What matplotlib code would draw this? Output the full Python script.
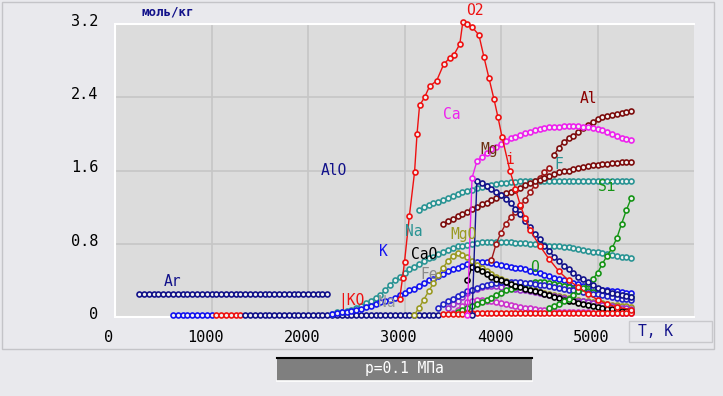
import numpy as np
import matplotlib
matplotlib.use("Agg")
import matplotlib.pyplot as plt
from matplotlib.patches import Rectangle
from matplotlib.transforms import ScaledTranslation

W, H = 723, 396
STEP = 50  # K between calculated points

# ---- data: start temperature + mole numbers (mol/kg) every STEP K ----
ar_t0 = 250
ar_v = [0.25, 0.25, 0.25, 0.25, 0.25, 0.25, 0.25, 0.25, 0.25, 0.25,
        0.25, 0.25, 0.25, 0.25, 0.25, 0.25, 0.25, 0.25, 0.25, 0.25,
        0.25, 0.25, 0.25, 0.25, 0.25, 0.25, 0.25, 0.25, 0.25, 0.25,
        0.25, 0.25, 0.25, 0.25, 0.25, 0.25, 0.25, 0.25, 0.25, 0.25]

zb_t0 = 600
zb_v = [0.02, 0.02, 0.02, 0.02, 0.02, 0.02, 0.02, 0.02, 0.02]
zr_t0 = 1050
zr_v = [0.02, 0.02, 0.02, 0.02, 0.02, 0.02]
zn_t0 = 1350
zn_v = [0.02, 0.02, 0.02, 0.02, 0.02, 0.02, 0.02, 0.02, 0.02, 0.02,
        0.02, 0.02, 0.02, 0.02, 0.02, 0.02, 0.02, 0.02, 0.02, 0.02,
        0.02, 0.02, 0.02, 0.02, 0.02, 0.02, 0.02, 0.02, 0.02, 0.02,
        0.02, 0.02, 0.02, 0.02, 0.02, 0.02, 0.02, 0.02, 0.02, 0.02, 0.02]
lr_t0 = 3400
lr_v = [0.03, 0.03, 0.03, 0.03, 0.03, 0.04, 0.04, 0.04, 0.04, 0.04,
        0.04, 0.04, 0.04, 0.04, 0.04, 0.04, 0.04, 0.04, 0.04, 0.04,
        0.04, 0.04, 0.04, 0.04, 0.04, 0.04, 0.04, 0.04, 0.04, 0.04,
        0.04, 0.04, 0.04, 0.04, 0.04, 0.04, 0.04, 0.04, 0.04, 0.04]

k_t0 = 2250
k_v = [0.03, 0.04, 0.05, 0.06, 0.07, 0.08, 0.09, 0.11, 0.12, 0.14,
       0.16, 0.17, 0.19, 0.21, 0.24, 0.26, 0.29, 0.31, 0.34, 0.37,
       0.40, 0.42, 0.45, 0.47, 0.50, 0.52, 0.54, 0.56, 0.58, 0.59,
       0.60, 0.60, 0.60, 0.59, 0.58, 0.57, 0.56, 0.55, 0.54, 0.53,
       0.52, 0.50, 0.49, 0.48, 0.46, 0.45, 0.43, 0.42, 0.40, 0.38,
       0.37, 0.36, 0.34, 0.33, 0.32, 0.31, 0.30, 0.29, 0.28, 0.28,
       0.27, 0.26, 0.26]

na_t0 = 2250
na_v = [0.03, 0.05, 0.06, 0.07, 0.08, 0.10, 0.12, 0.15, 0.18, 0.21,
        0.24, 0.29, 0.35, 0.40, 0.44, 0.48, 0.52, 0.55, 0.58, 0.61,
        0.64, 0.66, 0.69, 0.71, 0.73, 0.75, 0.77, 0.78, 0.79, 0.80,
        0.81, 0.82, 0.82, 0.82, 0.82, 0.82, 0.82, 0.82, 0.81, 0.81,
        0.81, 0.80, 0.80, 0.79, 0.79, 0.78, 0.78, 0.77, 0.76, 0.76,
        0.75, 0.74, 0.73, 0.72, 0.71, 0.71, 0.70, 0.69, 0.68, 0.67,
        0.66, 0.65, 0.64]

f_t0 = 3150
f_v = [1.17, 1.20, 1.22, 1.24, 1.26, 1.28, 1.30, 1.32, 1.34, 1.36,
       1.38, 1.39, 1.41, 1.42, 1.43, 1.44, 1.45, 1.46, 1.46, 1.47,
       1.47, 1.48, 1.48, 1.48, 1.49, 1.49, 1.49, 1.49, 1.49, 1.49,
       1.49, 1.49, 1.49, 1.49, 1.49, 1.49, 1.49, 1.49, 1.49, 1.49,
       1.49, 1.49, 1.49, 1.49, 1.49]

alo_t0 = 3700
alo_v = [0.02, 1.48, 1.46, 1.43, 1.40, 1.36, 1.33, 1.29, 1.24, 1.18,
         1.12, 1.05, 0.98, 0.91, 0.85, 0.78, 0.72, 0.66, 0.61, 0.56,
         0.52, 0.48, 0.44, 0.41, 0.38, 0.35, 0.32, 0.30, 0.28, 0.26,
         0.25, 0.24, 0.23, 0.22]

ca_t0 = 3650
ca_v = [0.02, 1.52, 1.70, 1.75, 1.79, 1.83, 1.86, 1.89, 1.92, 1.95,
        1.97, 1.99, 2.01, 2.02, 2.04, 2.05, 2.06, 2.07, 2.08, 2.08,
        2.09, 2.09, 2.09, 2.09, 2.08, 2.07, 2.06, 2.05, 2.04, 2.02,
        2.00, 1.98, 1.96, 1.94, 1.93]

mg_t0 = 3400
mg_v = [1.02, 1.05, 1.07, 1.10, 1.12, 1.15, 1.18, 1.20, 1.23, 1.25,
        1.28, 1.30, 1.33, 1.35, 1.37, 1.39, 1.41, 1.44, 1.46, 1.48,
        1.50, 1.52, 1.54, 1.56, 1.58, 1.59, 1.60, 1.62, 1.63, 1.64,
        1.65, 1.66, 1.66, 1.67, 1.67, 1.68, 1.68, 1.69, 1.69, 1.69]

al_t0 = 4550
al_v = [1.77, 1.85, 1.91, 1.95, 1.98, 2.02, 2.06, 2.10, 2.13, 2.16,
        2.18, 2.20, 2.21, 2.22, 2.23, 2.24, 2.25]

fe_t0 = 3900
fe_v = [0.62, 0.80, 0.92, 1.02, 1.09, 1.15, 1.21, 1.28, 1.36, 1.44,
        1.52, 1.58, 1.63]

si_t0 = 4500
si_v = [0.10, 0.12, 0.14, 0.17, 0.20, 0.24, 0.28, 0.32, 0.36, 0.41,
        0.48, 0.58, 0.67, 0.75, 0.86, 1.02, 1.17, 1.30]

o_t0 = 3550
o_v = [0.06, 0.08, 0.10, 0.12, 0.14, 0.16, 0.19, 0.21, 0.24, 0.26,
       0.29, 0.31, 0.33, 0.35, 0.36, 0.37, 0.38, 0.38, 0.38, 0.37,
       0.36, 0.35, 0.34, 0.33, 0.31, 0.30, 0.29, 0.28, 0.27, 0.26,
       0.25, 0.25, 0.24, 0.24, 0.23, 0.23, 0.22]

cao_t0 = 3650
cao_v = [0.40, 0.55, 0.52, 0.50, 0.47, 0.44, 0.42, 0.40, 0.38, 0.36,
         0.34, 0.33, 0.31, 0.30, 0.28, 0.27, 0.25, 0.24, 0.22, 0.21,
         0.19, 0.18, 0.17, 0.15, 0.14, 0.13, 0.12, 0.11, 0.10, 0.09,
         0.09, 0.08, 0.07, 0.07, 0.06]

mgo_t0 = 3100
mgo_v = [0.02, 0.10, 0.19, 0.28, 0.37, 0.46, 0.54, 0.61, 0.67, 0.70,
         0.68, 0.65, 0.61, 0.57, 0.54, 0.50, 0.47, 0.44, 0.41, 0.39,
         0.37, 0.35, 0.33, 0.31, 0.30, 0.29, 0.27, 0.26, 0.25, 0.24,
         0.23, 0.22, 0.21, 0.20, 0.19, 0.18, 0.17, 0.16, 0.16, 0.15,
         0.14, 0.13, 0.13, 0.12, 0.12, 0.11]

b2_t0 = 3350
b2_v = [0.10, 0.14, 0.17, 0.20, 0.23, 0.25, 0.28, 0.30, 0.32, 0.34,
        0.35, 0.36, 0.37, 0.38, 0.38, 0.38, 0.38, 0.38, 0.37, 0.37,
        0.36, 0.35, 0.35, 0.34, 0.33, 0.32, 0.31, 0.30, 0.29, 0.28,
        0.27, 0.26, 0.25, 0.25, 0.24, 0.23, 0.22, 0.21, 0.20, 0.20,
        0.19]

p1_t0 = 3450
p1_v = [0.10, 0.14, 0.18, 0.22, 0.26, 0.29, 0.31, 0.33, 0.34, 0.34,
        0.34, 0.33, 0.33, 0.32, 0.31, 0.30, 0.29, 0.28, 0.27, 0.26,
        0.25, 0.24, 0.23, 0.22, 0.21, 0.20, 0.19, 0.18, 0.17, 0.16,
        0.15, 0.14, 0.13, 0.12, 0.12, 0.11, 0.10, 0.10, 0.09]

p2_t0 = 3500
p2_v = [0.04, 0.08, 0.12, 0.16, 0.18, 0.19, 0.19, 0.18, 0.17, 0.16,
        0.15, 0.14, 0.13, 0.12, 0.11, 0.10, 0.10, 0.09, 0.08, 0.08,
        0.07, 0.07, 0.06, 0.06, 0.06, 0.05, 0.05, 0.05, 0.05, 0.04,
        0.04, 0.04, 0.04, 0.04, 0.04, 0.04, 0.04, 0.04]

# O2 was read point by point (irregular spacing)
o2_t = [2950, 2980, 3000, 3050, 3104, 3130, 3156, 3208, 3260, 3333,
        3406, 3469, 3510, 3573, 3604, 3646, 3698, 3771, 3823, 3875,
        3927, 3969, 4010, 4094, 4150, 4200, 4250, 4300, 4400, 4500,
        4600, 4700, 4800, 4900, 5000, 5100, 5200, 5350]
o2_v = [0.20, 0.43, 0.60, 1.10, 1.58, 2.00, 2.31, 2.40, 2.52, 2.58,
        2.76, 2.83, 2.86, 2.98, 3.22, 3.20, 3.17, 3.08, 2.84, 2.61,
        2.38, 2.18, 1.97, 1.59, 1.40, 1.22, 1.08, 0.95, 0.78, 0.63,
        0.50, 0.40, 0.33, 0.25, 0.19, 0.14, 0.11, 0.08]

x_ticks = [0, 1000, 2000, 3000, 4000, 5000]
y_ticks = [0, 0.8, 1.6, 2.4, 3.2]
y_ticklabels = ["0", "0.8", "1.6", "2.4", "3.2"]

NAVY, BLUE, TEAL = "#12128a", "#1414f0", "#2a9494"
RED, DRED, MAG = "#ee1111", "#7d0d0d", "#ee22ee"
GREEN, OLIVE, PURP = "#159415", "#9a9a22", "#9933cc"

MONO = "DejaVu Sans Mono"


def temps(t0, vals):
    return t0 + STEP * np.arange(len(vals))


series = [
    (temps(zb_t0, zb_v), zb_v, BLUE),
    (temps(zr_t0, zr_v), zr_v, RED),
    (temps(zn_t0, zn_v), zn_v, NAVY),
    (temps(ar_t0, ar_v), ar_v, NAVY),
    (temps(na_t0, na_v), na_v, TEAL),
    (temps(k_t0, k_v), k_v, BLUE),
    (temps(f_t0, f_v), f_v, TEAL),
    (temps(mgo_t0, mgo_v), mgo_v, OLIVE),
    (temps(p2_t0, p2_v), p2_v, "#cc33cc"),
    (temps(p1_t0, p1_v), p1_v, PURP),
    (temps(o_t0, o_v), o_v, GREEN),
    (temps(b2_t0, b2_v), b2_v, "#2222c8"),
    (temps(cao_t0, cao_v), cao_v, "black"),
    (temps(lr_t0, lr_v), lr_v, RED),
    (temps(si_t0, si_v), si_v, GREEN),
    (temps(fe_t0, fe_v), fe_v, "#a01818"),
    (temps(mg_t0, mg_v), mg_v, DRED),
    (temps(al_t0, al_v), al_v, DRED),
    (temps(alo_t0, alo_v), alo_v, NAVY),
    (temps(ca_t0, ca_v), ca_v, MAG),
    (o2_t, o2_v, RED),
]

fig = plt.figure(figsize=(W / 100, H / 100), dpi=100)
fig.patch.set_facecolor("#e9e9ed")


def fx(x):
    return x / W


def fy(y):
    return 1 - y / H


ax = fig.add_axes([fx(115), fy(317), fx(694) - fx(115), fy(24) - fy(317)])
ax.set_facecolor("#dcdcdc")
ax.set_xlim(0, 6000)
ax.set_ylim(0, 3.2)

for t, v, c in series:
    ax.plot(t, v, "-o", color=c, lw=1.0, ms=3.6, mew=1.2, mfc="#f0f0f0",
            mec=c, clip_on=False, zorder=3)

ax.set_xticks(x_ticks)
ax.set_yticks(y_ticks)
ax.set_yticklabels(y_ticklabels)
ax.grid(True, color="#c6c6c6", lw=1.2, zorder=0)
ax.set_axisbelow(True)
ax.tick_params(length=0, labelsize=11, pad=9)
ax.tick_params(axis="y", pad=12)
for lab in ax.get_xticklabels():
    lab.set_fontfamily(MONO)
    lab.set_transform(lab.get_transform() + ScaledTranslation(-0.06, 0, fig.dpi_scale_trans))
for lab in ax.get_yticklabels():
    lab.set_fontfamily(MONO)
    lab.set_transform(lab.get_transform() + ScaledTranslation(0, 0.04, fig.dpi_scale_trans))

for side in ["left", "top", "bottom"]:
    ax.spines[side].set_color("white")
    ax.spines[side].set_linewidth(1.5)
ax.spines["right"].set_visible(False)

# species labels
labels = [
    ("O2", 3729, 3.35, RED), ("Ca", 3490, 2.21, MAG), ("Al", 4906, 2.39, "#8b0000"),
    ("Mg", 3875, 1.83, "#6b2e10"), ("F", 4594, 1.67, TEAL), ("i", 4094, 1.72, RED),
    ("Si", 5094, 1.42, GREEN), ("AlO", 2271, 1.60, NAVY), ("Ar", 594, 0.39, NAVY),
    ("|KO", 2450, 0.175, RED), ("Na", 2813, 0.16, "#9a9a9a"), ("Na", 3094, 0.93, TEAL),
    ("K", 2781, 0.71, BLUE), ("CaO", 3208, 0.68, "black"), ("MgO", 3615, 0.90, OLIVE),
    ("Fe", 3260, 0.46, "#8a8a8a"), ("O", 4344, 0.54, GREEN),
]
for txt, t, v, c in labels:
    ax.text(t, v, txt, color=c, fontsize=10.5, family=MONO, ha="center",
            va="center", zorder=4)

# frame, units, pressure bar
fig.add_artist(Rectangle((fx(2), fy(349)), fx(714) - fx(2), fy(2) - fy(349),
                         transform=fig.transFigure, fill=False, ec="#c4c4c8", lw=1))
fig.text(fx(168), fy(12), "моль/кг", color=NAVY, fontsize=9, family=MONO,
         weight="bold", ha="center", va="center")
fig.add_artist(Rectangle((fx(629), fy(342)), fx(712) - fx(629), fy(321) - fy(342),
                         transform=fig.transFigure, fc="none", ec="#c8c8cc", lw=1))
fig.text(fx(638), fy(332), "T, K", color=NAVY, fontsize=10.5, family=MONO,
         ha="left", va="center")
fig.add_artist(Rectangle((fx(277), fy(381)), fx(532) - fx(277), fy(358) - fy(381),
                         transform=fig.transFigure, fc="#7f7f7f", ec="none"))
fig.add_artist(plt.Line2D([fx(277), fx(532)], [fy(358), fy(358)],
                          transform=fig.transFigure, color="black", lw=1.5))
fig.add_artist(plt.Line2D([fx(277), fx(532)], [fy(381), fy(381)],
                          transform=fig.transFigure, color="white", lw=1.2))
fig.text(fx(404), fy(369), "p=0.1 МПа", color="white", fontsize=10.5,
         family=MONO, ha="center", va="center")

fig.savefig("out.png", dpi=100, facecolor=fig.get_facecolor())
